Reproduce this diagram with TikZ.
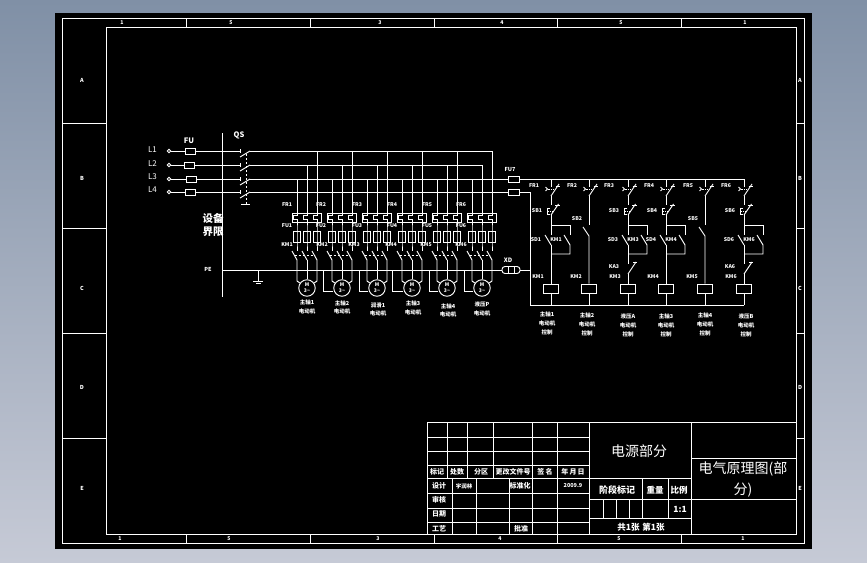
\documentclass[tikz,border=0pt]{standalone}
\usepackage{fontspec}
\setmainfont{Noto Sans CJK SC}
\usetikzlibrary{shapes,positioning,calc}
\definecolor{deskTop}{HTML}{8090A6}
\definecolor{deskBot}{HTML}{C6CAD6}
\tikzstyle{wire} = [white,line width=0.95pt]
\tikzstyle{fuse} = [rectangle,draw=white,line width=0.95pt,minimum width=10.5pt,minimum height=6pt,inner sep=0pt]
\tikzstyle{polefuse} = [rectangle,draw=white,line width=0.95pt,minimum width=6.5pt,minimum height=11pt,inner sep=0pt]
\tikzstyle{coil} = [rectangle,draw=white,line width=0.95pt,minimum width=15pt,minimum height=9pt,inner sep=0pt]
\tikzstyle{motor} = [circle,draw=white,line width=0.95pt,minimum size=16.5pt,inner sep=0pt,text=white,align=center,font=\fontsize{5}{6}\selectfont\bfseries]
\tikzstyle{term} = [circle,draw=white,line width=0.95pt,minimum size=3.5pt,inner sep=0pt]
\tikzstyle{tag} = [white,inner sep=0pt,font=\fontsize{5.2}{5.2}\selectfont\bfseries]
\tikzstyle{lab} = [white,inner sep=0pt,font=\fontsize{5.5}{5.5}\selectfont\bfseries]
\tikzstyle{cell} = [white,inner sep=0pt,font=\fontsize{7}{7}\selectfont\bfseries]
\tikzstyle{title} = [white,inner sep=0pt,font=\fontsize{14}{14}\selectfont]
\begin{document}
\begin{tikzpicture}[x=1pt,y=-1pt]
	\useasboundingbox (0,0) rectangle (867,562);
	\shade[top color=deskTop,bottom color=deskBot] (0,0) rectangle (867,562);
	\fill[black] (55,13) rectangle (812,549);
	% sheet frame
	\draw[wire] (62,18) rectangle (804,543);
	\draw[wire] (106,27) rectangle (796,534);
	\foreach \x in {186,310,434,557,681} {
		\draw[wire] (\x,18) -- (\x,27);
		\draw[wire] (\x,534) -- (\x,543);
	}
	\foreach \y in {123,228,333,438} {
		\draw[wire] (62,\y) -- (106,\y);
		\draw[wire] (796,\y) -- (804,\y);
	}
	\foreach \t/\x [count=\n] in {1/122,5/231,3/380,4/502,5/621,1/745} {
		\node[tag] (ztop\n) at (\x,22.5) {\t};
		\node[tag] (zbot\n) at (\x-2,538.5) {\t};
	}
	\foreach \t/\y [count=\n] in {A/80,B/178,C/288,D/387,E/488} {
		\node[lab] (zleft\n) at (82,\y) {\t};
		\node[lab] (zright\n) at (800,\y) {\t};
	}
	% incoming supply
	\foreach \i/\y/\fx/\ly in {1/151/190.5/150,2/165/189.5/164,3/179/191.5/177,4/192/190.5/190} {
		\node[white,inner sep=0pt,font=\fontsize{8}{8}\selectfont] (line\i) at (152.5,\ly) {L\i};
		\node[term] (t\i) at (169,\y) {};
		\node[fuse] (f\i) at (\fx,\y) {};
		\coordinate (q\i) at (240,\y);
		\coordinate (b\i) at (250,\y);
		\draw[wire] (t\i) -- (f\i) -- (q\i);
		\draw[wire] (240,\y-2) -- (240,\y+2);
		\draw[wire] (240,\y+6) -- (b\i);
	}
	\node[lab,font=\fontsize{7.5}{7.5}\selectfont\bfseries] (fulab) at (189,141) {FU};
	\node[lab,font=\fontsize{7.5}{7.5}\selectfont\bfseries] (qslab) at (239,135) {QS};
	\coordinate (qsb) at (246,204);
	\draw[wire,dash pattern=on 2pt off 2pt] (246,154) -- (qsb);
	\draw[wire] (241,204) -- (250,204);
	% boundary and neutral
	\coordinate (bd1) at (222,133);
	\coordinate (bd2) at (222,297);
	\draw[wire] (bd1) -- (bd2);
	\node[white,inner sep=0pt,font=\fontsize{10.5}{10.5}\selectfont\bfseries] (sb1) at (213,218) {设备};
	\node[white,inner sep=0pt,font=\fontsize{10.5}{10.5}\selectfont\bfseries] (sb2) at (213,232) {界限};
	\node[lab] (pelab) at (208,269) {PE};
	\node[draw=white,line width=0.95pt,rounded corners=3pt,minimum width=18pt,minimum height=7pt,inner sep=0pt] (xd) at (511,270) {};
	\node[lab,font=\fontsize{6}{6}\selectfont\bfseries] (xdlab) at (508,260) {XD};
	\draw[wire] (508,267) -- (508,273);
	\draw[wire] (514,267) -- (514,273);
	\coordinate (n0) at (222,270);
	\draw[wire] (n0) -- (xd);
	\coordinate (gnd) at (258,281);
	\draw[wire] (258,270) -- (gnd);
	\draw[wire] (253,281) -- (263,281);
	\draw[wire] (256,283) -- (261,283);
	% busbars
	\node[fuse] (f5) at (514,179) {};
	\node[fuse] (f6) at (514,192) {};
	\node[lab] (f7lab) at (510,169) {FU7};
	\coordinate (busa) at (492,151);
	\coordinate (busb) at (482,165);
	\coordinate (rail) at (530,192);
	\coordinate (railb) at (530,305);
	\coordinate (railx) at (530,270);
	\draw[wire] (b1) -- (busa);
	\draw[wire] (b2) -- (busb);
	\draw[wire] (b3) -- (f5);
	\draw[wire] (b4) -- (f6) -- (rail) -- (railb);
	\draw[wire] (xd) -- (railx);
	% motor branches
	\foreach \u/\x/\lx/\ya/\yb/\ta/\tb/\tc/\pe in {1/297/307/302/311/主轴1/287/287/0,2/332/342/303/311/主轴2/321/322/323,3/367/378/305/313/润滑1/357/354/359,4/402/413/303/312/主轴3/392/391/392,5/437/448/306/314/主轴4/427/426/429,6/472/482/304/313/液压P/461/461/464} {
		\node[motor] (m\u) at (\x+10,288) {M\\3\textasciitilde};
		\draw[wire] (\x-5,213) rectangle (\x+24,222);
		\foreach \p/\o/\y in {1/0/179,2/10/165,3/20/151} {
			\node[polefuse] (pf\u\p) at (\x+\o,236.5) {};
			\coordinate (bus\u\p) at (\x+\o,\y);
			\coordinate (sw\u\p) at (\x+\o,260);
			\draw[wire] (bus\u\p) -- (\x+\o,215) -- (\x+\o-3.5,215) -- (\x+\o-3.5,219) -- (\x+\o,219) -- (pf\u\p.north) -- (pf\u\p.south) -- (\x+\o,251);
			\draw[wire] (\x+\o-5,251) -- (sw\u\p);
		}
		\draw[wire,dash pattern=on 2pt off 2pt] (\x-2.5,255.5) -- (\x+17.5,255.5);
		\draw[wire] (sw\u1) -- (\x,281) -- (m\u);
		\draw[wire] (sw\u2) -- (m\u);
		\draw[wire] (sw\u3) -- (\x+20,281) -- (m\u);
		\node[tag] (fr\u) at (\tb,205) {FR\u};
		\node[tag] (fu\u) at (\tb,226) {FU\u};
		\node[tag] (km\u) at (\tc,245) {KM\u};
		\node[lab] (mta\u) at (\lx,\ya) {\ta};
		\node[lab] (mtb\u) at (\lx,\yb) {电动机};
		\ifnum\pe>0
			\coordinate (pe\u) at (\pe,270);
			\draw[wire] (pe\u) -- (\pe,291) -- (m\u.west |- 0,291);
		\fi
	}
	% control columns
	\foreach \c/\x/\k/\name/\tx/\ty/\ttx in {1/551/1/主轴1/547/314/534,2/589/0/主轴2/587/315/572,3/628/2/液压A/628/316/609,4/666/1/主轴3/666/316/649,5/705/0/主轴4/705/315/688,6/744/2/液压B/746/316/726} {
		\node[coil] (k\c) at (\x,288.5) {};
		\coordinate (top\c) at (\x,179);
		\coordinate (bot\c) at (\x,305);
		\draw[wire] (top\c) -- (\x,187);
		\draw[wire] (\x,196) -- (\x+8,184);
		\draw[wire] (\x+4.5,186) -- (\x+9,186);
		\draw[wire] (\x-5.5,187) -- (\x-3.5,189) -- (\x-5.5,191);
		\draw[wire,dash pattern=on 1.5pt off 1pt] (\x-3,189) -- (\x+3,189);
		\draw[wire] (k\c.south) -- (bot\c);
		\node[tag] (frc\c) at (\ttx,186) {FR\c};
		\node[tag] (kmc\c) at (\x-13,277) {KM\c};
		\node[lab] (cta\c) at (\tx,\ty) {\name};
		\node[lab] (ctb\c) at (\tx,\ty+9) {电动机};
		\node[lab] (ctc\c) at (\tx,\ty+18.5) {控制};
		\ifnum\k=0
			\draw[wire] (\x,196) -- (\x,225);
			\draw[wire] (\x-6,227) -- (\x,236) -- (k\c.north);
			\node[tag] (sbc\c) at (\x-12,219) {SB\c};
		\else
			\draw[wire] (\x,196) -- (\x,205);
			\draw[wire] (\x,215) -- (\x+7.5,204);
			\draw[wire] (\x+4,205.5) -- (\x+9,205.5);
			\draw[wire] (\x-1,208) -- (\x-4,208) -- (\x-4,214) -- (\x-1,214);
			\draw[wire,dash pattern=on 1.5pt off 1pt] (\x-4,211) -- (\x+2,211);
			\draw[wire] (\x,215) -- (\x,235);
			\draw[wire] (\x,225) -- (\x+19,225) -- (\x+19,235);
			\draw[wire] (\x+13,235) -- (\x+19,245) -- (\x+19,254) -- (\x,254);
			\draw[wire] (\x-6,235) -- (\x,245);
			\node[tag] (sbc\c) at (\x-14,211) {SB\c};
			\node[tag] (sdc\c) at (\x-15,240) {SD\c};
			\node[tag] (kac\c) at (\x+5,240) {KM\c};
			\ifnum\k=1
				\draw[wire] (\x,245) -- (k\c.north);
			\else
				\draw[wire] (\x,245) -- (\x,264);
				\draw[wire] (\x,274) -- (\x+8,262);
				\draw[wire] (\x+5,262) -- (\x+9,262);
				\draw[wire] (\x,274) -- (k\c.north);
				\node[tag] (kbc\c) at (\x-14,267) {KA\c};
			\fi
		\fi
	}
	\draw[wire] (f5) -- (top6);
	\draw[wire] (railb) -- (bot6);
	% title block
	\draw[wire] (427,422) rectangle (796,534);
	\foreach \y in {437,451,465,478,493,508,522} {
		\draw[wire] (427,\y) -- (589,\y);
	}
	\foreach \x in {447,467,493,532,557} {
		\draw[wire] (\x,422) -- (\x,478);
	}
	\foreach \x in {452,476,509,532,557} {
		\draw[wire] (\x,478) -- (\x,534);
	}
	\draw[wire] (589,422) -- (589,534);
	\draw[wire] (691,422) -- (691,534);
	\draw[wire] (589,478) -- (691,478);
	\draw[wire] (589,499) -- (796,499);
	\draw[wire] (589,518) -- (691,518);
	\draw[wire] (691,458) -- (796,458);
	\draw[wire] (642,478) -- (642,518);
	\draw[wire] (668,478) -- (668,518);
	\foreach \x in {603,616,629} {
		\draw[wire] (\x,499) -- (\x,518);
	}
	\foreach \t/\x/\y [count=\n] in {标记/437/472,处数/457/472,分区/481/472,更改文件号/513/472,签\,名/545/472,年\,月\,日/573/472,设计/439/486,标准化/520/486,审核/439/500,日期/439/514,工艺/439/529,批准/521/529} {
		\node[cell] (tb\n) at (\x,\y) {\t};
	}
	\node[lab] (tbname) at (464,486) {宇润林};
	\node[lab] (tbdate) at (573,485) {2009.9};
	\node[cell,font=\fontsize{9}{9}\selectfont\bfseries] (tbstage) at (617,490) {阶段标记};
	\node[cell,font=\fontsize{8.5}{8.5}\selectfont\bfseries] (tbmass) at (655,490) {重量};
	\node[cell,font=\fontsize{8.5}{8.5}\selectfont\bfseries] (tbscale) at (679,490) {比例};
	\node[cell,font=\fontsize{8.5}{8.5}\selectfont\bfseries] (tbratio) at (680,509) {1:1};
	\node[cell,font=\fontsize{8.5}{8.5}\selectfont\bfseries] (tbsheet) at (641,527) {共1张\,\,第1张};
	\node[title] (tbpart) at (639,451) {电源部分};
	\node[title] (tbmain) at (743,469) {电气原理图(部};
	\node[title] (tbmainb) at (743,490) {分)};
\end{tikzpicture}
\end{document}
